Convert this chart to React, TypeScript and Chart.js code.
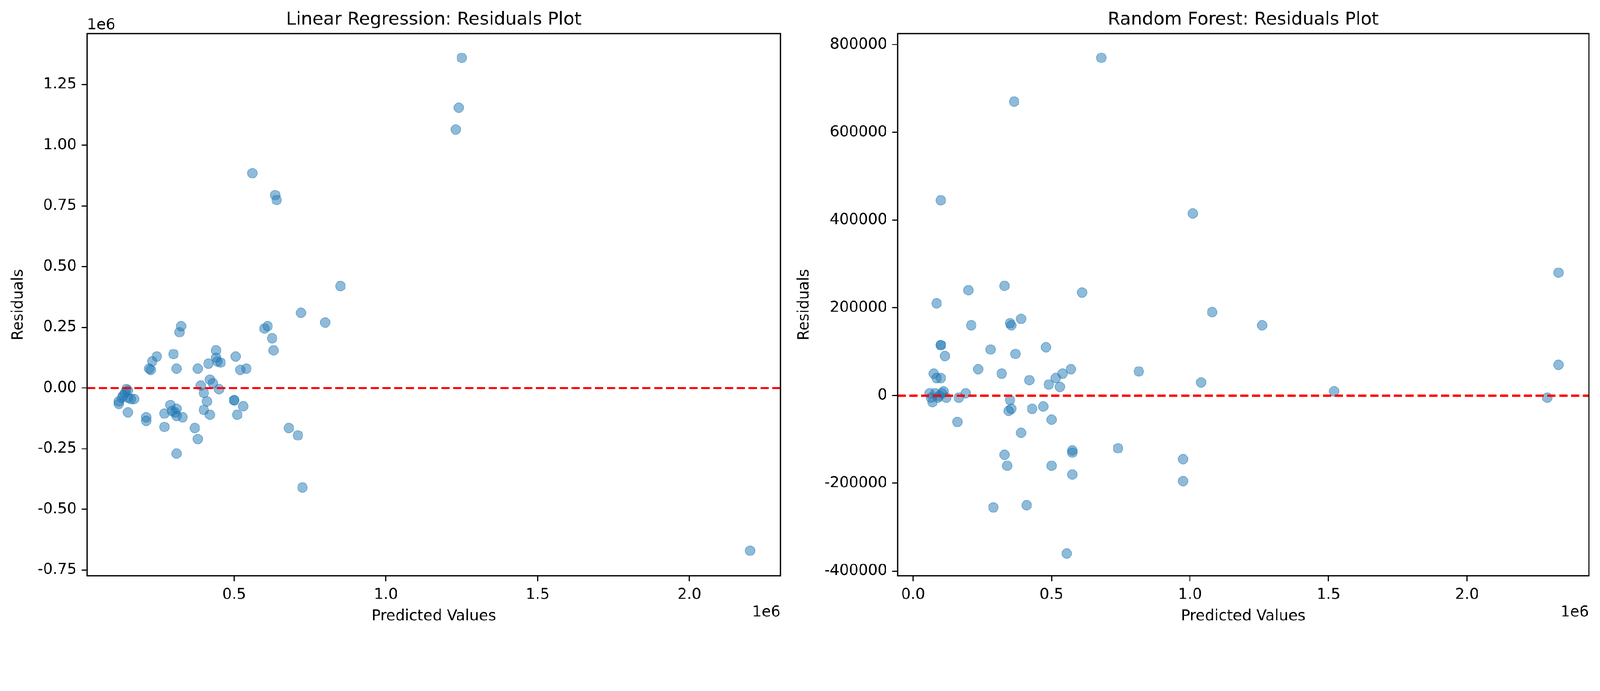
import React, { useEffect, useRef } from "react";
import { Chart, registerables } from "chart.js";
Chart.register(...registerables);

// Linear Regression: predicted (millions), residuals (millions)
const lrX = [0.12,0.12,0.13,0.135,0.14,0.145,0.15,0.15,0.16,0.17,0.15,0.21,0.21,0.22,0.225,0.23,0.245,0.27,0.27,0.29,0.295,0.30,0.305,0.31,0.31,0.31,0.31,0.32,0.325,0.33,0.37,0.38,0.38,0.39,0.40,0.40,0.41,0.415,0.42,0.42,0.43,0.44,0.44,0.445,0.455,0.45,0.50,0.505,0.51,0.52,0.53,0.54,0.50,0.56,0.60,0.61,0.625,0.63,0.635,0.64,0.68,0.71,0.72,0.725,0.80,0.85,1.23,1.24,1.25,2.2];
const lrY = [-0.065,-0.055,-0.04,-0.03,-0.02,-0.005,-0.01,-0.04,-0.045,-0.045,-0.1,-0.12,-0.135,0.08,0.075,0.11,0.13,-0.105,-0.16,-0.07,-0.095,0.14,-0.1,-0.085,-0.115,0.08,-0.27,0.23,0.255,-0.12,-0.165,-0.21,0.08,0.01,-0.02,-0.09,-0.055,0.1,0.035,-0.11,0.02,0.155,0.125,0.11,0.105,-0.005,-0.05,0.13,-0.11,0.075,-0.075,0.08,-0.05,0.885,0.245,0.255,0.205,0.155,0.795,0.775,-0.165,-0.195,0.31,-0.41,0.27,0.42,1.065,1.155,1.36,-0.67];

// Random Forest: predicted (millions), residuals
const rfX = [0.06,0.065,0.07,0.075,0.08,0.085,0.085,0.09,0.095,0.10,0.10,0.10,0.10,0.105,0.11,0.115,0.12,0.16,0.165,0.19,0.20,0.21,0.235,0.28,0.29,0.32,0.33,0.33,0.34,0.345,0.35,0.35,0.355,0.355,0.365,0.37,0.39,0.39,0.41,0.42,0.43,0.47,0.48,0.49,0.50,0.50,0.515,0.53,0.54,0.555,0.57,0.575,0.575,0.575,0.61,0.68,0.74,0.815,0.975,0.975,1.01,1.04,1.08,1.26,1.52,2.29,2.33,2.33];
const rfY = [5000,-5000,-15000,50000,5000,210000,40000,-5000,0,115000,115000,445000,40000,5000,10000,90000,-5000,-60000,-5000,5000,240000,160000,60000,105000,-255000,50000,250000,-135000,-160000,-35000,-10000,165000,160000,-30000,670000,95000,175000,-85000,-250000,35000,-30000,-25000,110000,25000,-55000,-160000,40000,20000,50000,-360000,60000,-125000,-130000,-180000,235000,770000,-120000,55000,-145000,-195000,415000,30000,190000,160000,10000,-5000,280000,70000];

const lrXTicks = [0.5, 1.0, 1.5, 2.0];
const lrYTicks = [-0.75, -0.5, -0.25, 0, 0.25, 0.5, 0.75, 1.0, 1.25];
const rfXTicks = [0.0, 0.5, 1.0, 1.5, 2.0];
const rfYTicks = [-400000, -200000, 0, 200000, 400000, 600000, 800000];

const FONT = "DejaVu Sans";
const W = 4469;
const H = 1769;

function makeChart(canvas: HTMLCanvasElement, cfg: any) {
  const pts = cfg.xs.map((x: number, i: number) => ({ x, y: cfg.ys[i] }));
  const deco = {
    id: "deco",
    afterDraw(chart: any) {
      const { ctx, chartArea: a } = chart;
      ctx.save();
      ctx.strokeStyle = "#000";
      ctx.lineWidth = 3.3;
      ctx.strokeRect(a.left, a.top, a.right - a.left, a.bottom - a.top);
      ctx.fillStyle = "#000";
      ctx.font = `50px '${FONT}'`;
      ctx.textAlign = "center";
      ctx.textBaseline = "alphabetic";
      ctx.fillText(cfg.title, (a.left + a.right) / 2, a.top - 25);
      ctx.font = `42px '${FONT}'`;
      ctx.fillText("Predicted Values", (a.left + a.right) / 2, 1733);
      ctx.textAlign = "right";
      ctx.fillText("1e6", a.right, 1722);
      if (cfg.yOffset) {
        ctx.textAlign = "left";
        ctx.fillText("1e6", a.left, a.top - 12);
      }
      ctx.save();
      ctx.translate(cfg.yTitleX, (a.top + a.bottom) / 2);
      ctx.rotate(-Math.PI / 2);
      ctx.textAlign = "center";
      ctx.textBaseline = "middle";
      ctx.fillText("Residuals", 0, 0);
      ctx.restore();
      ctx.restore();
    },
  };
  const tickOpts = { color: "#000", font: { family: FONT, size: 42 }, padding: 14 };
  const gridOpts = { drawOnChartArea: false, drawTicks: true, tickLength: 15, tickWidth: 3, tickColor: "#000" };
  return new Chart(canvas, {
    type: "scatter",
    data: {
      datasets: [
        {
          data: pts,
          backgroundColor: "rgba(31,119,180,0.5)",
          borderColor: "rgba(31,119,180,0.5)",
          borderWidth: 2,
          pointRadius: 13.5,
          order: 2,
        },
        {
          type: "line",
          data: [{ x: cfg.xMin, y: 0 }, { x: cfg.xMax, y: 0 }],
          borderColor: "#ff0000",
          borderWidth: 6,
          borderDash: [23, 10],
          pointRadius: 0,
          order: 1,
        } as any,
      ],
    },
    options: {
      animation: false,
      responsive: false,
      devicePixelRatio: 1,
      layout: { padding: { left: 0, right: cfg.padRight, top: 94, bottom: 0 } },
      plugins: { legend: { display: false }, tooltip: { enabled: false } },
      scales: {
        x: {
          type: "linear",
          min: cfg.xMin,
          max: cfg.xMax,
          grid: gridOpts,
          border: { display: false },
          ticks: { ...tickOpts, callback: (v: any) => Number(v).toFixed(1) },
          afterBuildTicks: (s: any) => { s.ticks = cfg.xTicks.map((v: number) => ({ value: v })); },
          afterFit: (s: any) => { s.height = 161; },
        },
        y: {
          type: "linear",
          min: cfg.yMin,
          max: cfg.yMax,
          grid: gridOpts,
          border: { display: false },
          ticks: { ...tickOpts, callback: cfg.yFmt },
          afterBuildTicks: (s: any) => { s.ticks = cfg.yTicks.map((v: number) => ({ value: v })); },
          afterFit: (s: any) => { s.width = cfg.yWidth; },
        },
      },
    },
    plugins: [deco],
  });
}

export default function App() {
  const r1 = useRef<HTMLCanvasElement>(null);
  const r2 = useRef<HTMLCanvasElement>(null);
  const k = typeof window !== "undefined" ? window.innerWidth / W : 1;
  useEffect(() => {
    const c1 = makeChart(r1.current!, {
      xs: lrX, ys: lrY, xMin: 0.015, xMax: 2.30, yMin: -0.773, yMax: 1.46,
      xTicks: lrXTicks, yTicks: lrYTicks, yFmt: (v: any) => Number(v).toFixed(2),
      yWidth: 243, padRight: 20, title: "Linear Regression: Residuals Plot", yOffset: true, yTitleX: 52,
    });
    const c2 = makeChart(r2.current!, {
      xs: rfX, ys: rfY, xMin: -0.056, xMax: 2.44, yMin: -410600, yMax: 825000,
      xTicks: rfXTicks, yTicks: rfYTicks, yFmt: (v: any) => String(v),
      yWidth: 307, padRight: 31, title: "Random Forest: Residuals Plot", yOffset: false, yTitleX: 47,
    });
    return () => { c1.destroy(); c2.destroy(); };
  }, []);
  return (
    <div style={{ position: "fixed", left: 0, top: 0, width: W, height: H, background: "#fff", transform: `scale(${k})`, transformOrigin: "0 0" }}>
      <canvas ref={r1} width={2200} height={H} style={{ position: "absolute", left: 0, top: 0, width: 2200, height: H }} />
      <canvas ref={r2} width={2269} height={H} style={{ position: "absolute", left: 2200, top: 0, width: 2269, height: H }} />
    </div>
  );
}
